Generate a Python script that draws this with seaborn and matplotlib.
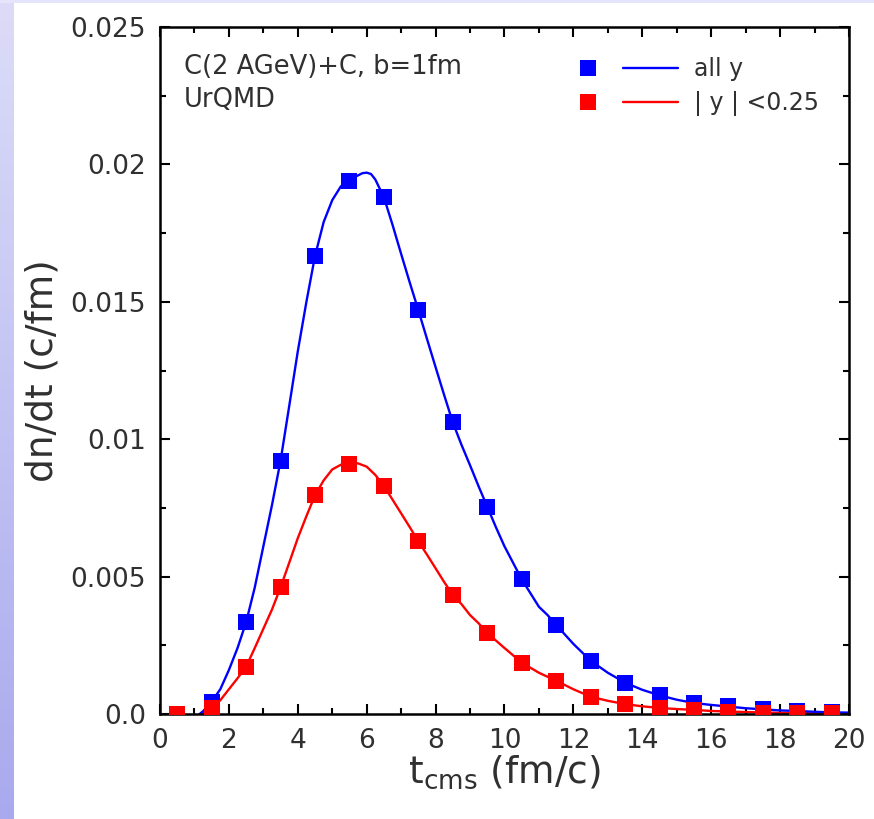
import numpy as np
import pandas as pd
import matplotlib
matplotlib.use("Agg")
import matplotlib.pyplot as plt
import seaborn as sns
from matplotlib.lines import Line2D
from matplotlib.legend_handler import HandlerTuple
from matplotlib.ticker import MultipleLocator, FixedLocator
from matplotlib.colors import LinearSegmentedColormap

# ---- data ----
t_all = [1.5, 2.5, 3.5, 4.5, 5.5, 6.5, 7.5, 8.5, 9.5, 10.5, 11.5, 12.5, 13.5,
         14.5, 15.5, 16.5, 17.5, 18.5, 19.5]
dn_all = [0.00045, 0.00334, 0.00922, 0.01667, 0.0194, 0.0188, 0.01469, 0.01061,
          0.00754, 0.0049, 0.00324, 0.00194, 0.00114, 0.0007, 0.00039, 0.00029,
          0.00017, 0.00012, 0.00006]

t_mid = [0.5, 1.5, 2.5, 3.5, 4.5, 5.5, 6.5, 7.5, 8.5, 9.5, 10.5, 11.5, 12.5,
         13.5, 14.5, 15.5, 16.5, 17.5, 18.5, 19.5]
dn_mid = [0.0, 0.00021, 0.00172, 0.00461, 0.00796, 0.0091, 0.0083, 0.00628,
          0.00433, 0.00295, 0.00187, 0.00121, 0.00063, 0.00036, 0.00022,
          0.00015, 0.00008, 0.00005, 0.00003, 0.00002]

# fitted curves
fit_t_all = [1.15, 1.25, 1.5, 1.75, 2.0, 2.25, 2.5, 2.75, 3.0, 3.25, 3.5, 3.75,
             4.0, 4.25, 4.5, 4.75, 5.0, 5.25, 5.5, 5.75, 5.875, 6.0, 6.125,
             6.25, 6.5, 6.75, 7.0, 7.25, 7.5, 7.75, 8.0, 8.25, 8.5, 8.75, 9.0,
             9.25, 9.5, 9.75, 10.0, 10.25, 10.5, 10.75, 11.0, 11.25, 11.5, 12.0,
             12.5, 13.0, 13.5, 14.0, 14.5, 15.0, 15.5, 16.0, 16.5, 17.0, 17.5,
             18.0, 18.5, 19.0, 19.5, 20.0]
fit_dn_all = [0.0, 0.0001, 0.00045, 0.0009, 0.0016, 0.0024, 0.00334, 0.0046,
              0.0061, 0.0076, 0.00922, 0.0112, 0.0132, 0.0150, 0.01667, 0.0179,
              0.0187, 0.0192, 0.01945, 0.0196, 0.01968, 0.0197, 0.01965,
              0.01945, 0.0188, 0.0178, 0.01674, 0.0157, 0.01469, 0.01365,
              0.01262, 0.0116, 0.01061, 0.0098, 0.00905, 0.00828, 0.00754,
              0.0068, 0.0061, 0.0055, 0.0049, 0.0044, 0.0039, 0.0036, 0.00324,
              0.00255, 0.00194, 0.0015, 0.00114, 0.00088, 0.00068, 0.00052,
              0.0004, 0.00033, 0.00027, 0.00021, 0.00017, 0.00013, 0.00011,
              0.00008, 0.00006, 0.00005]

fit_t_mid = [1.2, 1.3, 1.5, 1.75, 2.0, 2.25, 2.5, 2.75, 3.0, 3.25, 3.5, 3.75,
             4.0, 4.25, 4.5, 4.75, 5.0, 5.25, 5.5, 5.75, 6.0, 6.25, 6.5, 6.75,
             7.0, 7.25, 7.5, 7.75, 8.0, 8.25, 8.5, 8.75, 9.0, 9.25, 9.5, 10.0,
             10.5, 11.0, 11.5, 12.0, 12.5, 13.0, 13.5, 14.0, 14.5, 15.0, 15.5,
             16.0, 17.0, 18.0, 19.0, 20.0]
fit_dn_mid = [0.0, 0.00005, 0.00021, 0.0005, 0.0009, 0.0013, 0.00172, 0.0024,
              0.0031, 0.0038, 0.00461, 0.0055, 0.0064, 0.0072, 0.00796, 0.0085,
              0.0089, 0.00907, 0.00912, 0.00912, 0.0090, 0.0087, 0.0083, 0.0078,
              0.0073, 0.0068, 0.00628, 0.0058, 0.0053, 0.0048, 0.00433, 0.0040,
              0.0036, 0.0033, 0.00295, 0.0024, 0.00187, 0.0015, 0.00121, 0.0009,
              0.00063, 0.00048, 0.00036, 0.00028, 0.00022, 0.00018, 0.00015,
              0.00011, 0.00007, 0.00004, 0.00003, 0.00002]

y_ticks = [0.0, 0.005, 0.01, 0.015, 0.02, 0.025]
y_tick_labels = ["0.0", "0.005", "0.01", "0.015", "0.02", "0.025"]
x_ticks = [0, 2, 4, 6, 8, 10, 12, 14, 16, 18, 20]

sns.set_theme(style="ticks")
plt.rcParams["font.family"] = ["DejaVu Sans"]
plt.rcParams["text.color"] = "#303030"
plt.rcParams["axes.labelcolor"] = "#303030"
plt.rcParams["xtick.color"] = "black"
plt.rcParams["ytick.color"] = "black"
plt.rcParams["xtick.labelcolor"] = "#303030"
plt.rcParams["ytick.labelcolor"] = "#303030"

fig = plt.figure(figsize=(8.74, 8.19), dpi=100)
fig.patch.set_facecolor("white")

# lavender slide background strip on the left and top
bg = fig.add_axes([0, 0, 14 / 874, 1])
grad = np.linspace(0, 1, 256).reshape(-1, 1)
cm = LinearSegmentedColormap.from_list("lav", ["#a9a9ee", "#dcdcf8"])
bg.imshow(grad, aspect="auto", cmap=cm, origin="lower", extent=[0, 1, 0, 1])
bg.set_axis_off()
top = fig.add_axes([0, 1 - 3 / 819, 1, 3 / 819])
top.set_axis_off()
top.add_patch(plt.Rectangle((0, 0), 1, 1, color="#e4e4fa", transform=top.transAxes))

ax = fig.add_axes([160 / 874, 1 - 714 / 819, 689 / 874, 687 / 819])

df_fit_all = pd.DataFrame({"t": fit_t_all, "dn": fit_dn_all})
df_fit_mid = pd.DataFrame({"t": fit_t_mid, "dn": fit_dn_mid})
df_all = pd.DataFrame({"t": t_all, "dn": dn_all})
df_mid = pd.DataFrame({"t": t_mid, "dn": dn_mid})

sns.lineplot(data=df_fit_mid, x="t", y="dn", color="#ff0000", lw=1.7,
             estimator=None, sort=False, ax=ax, zorder=2)
sns.lineplot(data=df_fit_all, x="t", y="dn", color="#0000ff", lw=1.7,
             estimator=None, sort=False, ax=ax, zorder=2)
sns.scatterplot(data=df_all, x="t", y="dn", color="#0000ff", marker="s", s=120,
                linewidth=0, ax=ax, zorder=3)
sns.scatterplot(data=df_mid, x="t", y="dn", color="#ff0000", marker="s", s=120,
                linewidth=0, ax=ax, zorder=4)

ax.set_xlim(0, 20)
ax.set_ylim(0, 0.025)
ax.xaxis.set_major_locator(FixedLocator(x_ticks))
ax.xaxis.set_minor_locator(MultipleLocator(1))
ax.yaxis.set_major_locator(FixedLocator(y_ticks))
ax.set_yticklabels(y_tick_labels)
ax.yaxis.set_minor_locator(MultipleLocator(0.0025))
ax.tick_params(which="both", direction="in", top=True, right=True, width=1.5)
ax.tick_params(which="major", length=7, labelsize=19, pad=10)
ax.tick_params(which="minor", length=4)
for s in ax.spines.values():
    s.set_linewidth(1.8)
    s.set_color("black")

ax.set_xlabel(r"t$_{\mathregular{cms}}$ (fm/c)", fontsize=27, labelpad=0)
ax.set_ylabel("dn/dt (c/fm)", fontsize=27, labelpad=7)

ax.text(0.035, 0.96, "C(2 AGeV)+C, b=1fm", transform=ax.transAxes,
        fontsize=18.5, va="top", ha="left")
ax.text(0.035, 0.912, "UrQMD", transform=ax.transAxes,
        fontsize=18.5, va="top", ha="left")

h_sq_b = Line2D([], [], ls="none", marker="s", ms=11, color="#0000ff", mew=0)
h_ln_b = Line2D([], [], color="#0000ff", lw=1.7)
h_sq_r = Line2D([], [], ls="none", marker="s", ms=11, color="#ff0000", mew=0)
h_ln_r = Line2D([], [], color="#ff0000", lw=1.7)
leg = ax.legend([(h_sq_b, h_ln_b), (h_sq_r, h_ln_r)], ["all y", "| y | <0.25"],
                handler_map={tuple: HandlerTuple(ndivide=None, pad=0.3)},
                loc="upper left", bbox_to_anchor=((560 - 160) / 689, 0.956),
                frameon=False, fontsize=17, handlelength=5.0, handletextpad=0.68,
                borderpad=0, borderaxespad=0, labelspacing=0.42)

fig.savefig("out.png", dpi=100, facecolor="white")
